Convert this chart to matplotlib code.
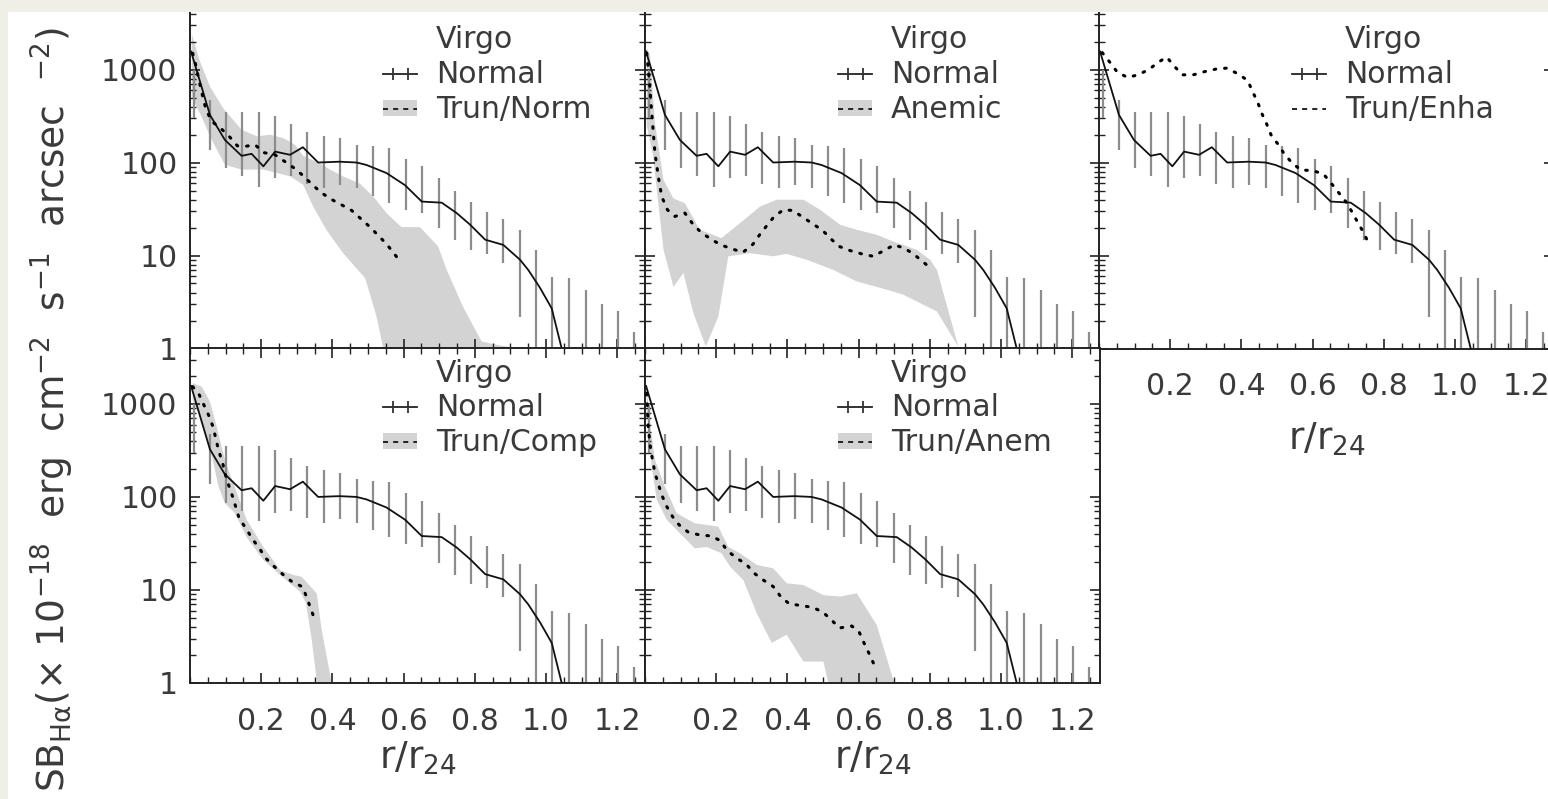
import matplotlib
matplotlib.use("Agg")
import matplotlib.pyplot as plt
from matplotlib.lines import Line2D
from matplotlib.patches import Patch, Rectangle
from matplotlib.path import Path
from matplotlib.ticker import LogLocator, MultipleLocator, FixedLocator, NullFormatter

# ---- data ----
# "Normal" Virgo profile, same in every panel
normal_r = [0.003, 0.056, 0.098, 0.145, 0.173, 0.206, 0.239, 0.281, 0.317, 0.360, 0.420, 0.468, 0.496,
            0.552, 0.604, 0.651, 0.707, 0.749, 0.787, 0.829, 0.880, 0.927, 0.950, 0.983, 1.016, 1.044, 1.060]
normal_sb = [1560, 325, 175, 118, 124, 91, 131, 121, 146, 100, 102, 100, 94,
             77, 57, 38, 37, 28.6, 21.4, 14.8, 13.0, 9.0, 7.0, 4.5, 2.7, 1.0, 0.6]
err_r = [0.010, 0.056, 0.101, 0.145, 0.194, 0.239, 0.284, 0.330, 0.376, 0.421, 0.468, 0.513, 0.560, 0.606,
         0.653, 0.698, 0.744, 0.789, 0.835, 0.880, 0.927, 0.972, 1.018, 1.065, 1.111, 1.156, 1.201, 1.248]
err_hi = [1000, 473, 353, 353, 353, 318, 261, 215, 194, 183, 155, 149, 143, 109,
          91, 68, 50, 38, 29.7, 24.6, 18.9, 11.5, 5.9, 5.7, 4.3, 3.0, 2.5, 1.5]
err_lo = [300, 137, 87, 71, 55, 68, 71, 59, 53, 58, 53, 44, 37, 31,
          29, 19.7, 14.5, 11.5, 10.4, 8.3, 2.2, 0.5, 0.5, 0.5, 0.5, 0.5, 0.5, 0.5]

# Trun/Norm
tn_r = [0.0075, 0.016, 0.030, 0.045, 0.061, 0.086, 0.110, 0.133, 0.154, 0.183, 0.206, 0.239, 0.267,
        0.293, 0.318, 0.344, 0.370, 0.398, 0.426, 0.454, 0.479, 0.504, 0.527, 0.551, 0.571, 0.592]
tn_sb = [1500, 1125, 630, 369, 277, 234, 191, 151, 149, 155, 128, 121, 102,
         87, 72, 57.5, 47, 40, 35, 30.5, 25, 20.5, 16.7, 13.4, 10.8, 8.4]
tn_top_r = [0.005, 0.028, 0.056, 0.093, 0.145, 0.188, 0.225, 0.262, 0.295, 0.318, 0.365, 0.393, 0.430,
            0.478, 0.515, 0.552, 0.594, 0.646, 0.697, 0.721, 0.767, 0.819, 0.870, 0.927, 0.950]
tn_top_sb = [2400, 1220, 656, 385, 225, 191, 199, 183, 155, 118, 98, 84, 71,
             59, 43, 28.6, 20.2, 20.2, 12.5, 7.0, 2.8, 1.19, 1.08, 1.0, 0.5]
tn_bot_r = [0.005, 0.032, 0.061, 0.098, 0.145, 0.206, 0.281, 0.318, 0.346, 0.383, 0.430, 0.492, 0.524, 0.543, 0.560]
tn_bot_sb = [510, 313, 175, 94.5, 84, 84, 71, 57.5, 33.6, 18.9, 10.6, 5.7, 2.2, 1.0, 0.5]

# Anemic
an_r = [0.005, 0.012, 0.019, 0.028, 0.038, 0.047, 0.063, 0.084, 0.112, 0.134, 0.157, 0.185, 0.213, 0.247,
        0.275, 0.303, 0.322, 0.342, 0.363, 0.389, 0.415, 0.443, 0.471, 0.499, 0.522, 0.546, 0.576, 0.609,
        0.641, 0.671, 0.700, 0.728, 0.754, 0.780, 0.808]
an_sb = [1500, 776, 339, 126, 68, 43, 31, 26.3, 28.6, 21.9, 17.8, 15, 13, 11.7,
         10.8, 13.2, 16.7, 20.9, 26.3, 31, 30.5, 25.9, 21.9, 18.6, 15.1, 12.5, 11.3, 10.4,
         9.8, 11.3, 13, 12, 10.4, 8.6, 7.0]
an_top_r = [0.005, 0.014, 0.028, 0.052, 0.080, 0.112, 0.154, 0.215, 0.267, 0.323, 0.370, 0.445, 0.492,
            0.548, 0.595, 0.651, 0.698, 0.763, 0.801, 0.820, 0.880]
an_top_sb = [1700, 1440, 265, 65, 41, 36.6, 18.9, 15.4, 22.3, 33.6, 39.8, 39.8, 31,
             21.4, 18.9, 16.7, 14.1, 11.5, 9.0, 7.0, 1.05]
an_bot_r = [0.005, 0.023, 0.052, 0.080, 0.108, 0.136, 0.171, 0.206, 0.234, 0.295, 0.360, 0.398, 0.454,
            0.529, 0.595, 0.660, 0.725, 0.820, 0.880]
an_bot_sb = [250, 116, 11.5, 4.6, 6.5, 2.4, 1.05, 2.2, 9.8, 10.6, 9.8, 10.4, 9.0,
             7.0, 5.25, 4.5, 3.8, 2.5, 1.05]

# Trun/Enha
te_r = [0.009, 0.031, 0.052, 0.081, 0.109, 0.139, 0.167, 0.190, 0.213, 0.234, 0.265, 0.298, 0.328, 0.359,
        0.390, 0.418, 0.431, 0.445, 0.457, 0.471, 0.483, 0.504, 0.522, 0.543, 0.567, 0.599, 0.630, 0.652,
        0.673, 0.693, 0.710, 0.727, 0.743, 0.757]
te_sb = [1520, 1190, 930, 820, 877, 993, 1200, 1360, 1070, 877, 877, 951, 1010, 1035,
         899, 762, 580, 453, 339, 259, 199, 155, 121, 98.6, 83, 82, 75.5, 60,
         47.5, 38, 29.7, 22.6, 17.7, 13.6]

# Trun/Comp
tc_r = [0.0075, 0.026, 0.039, 0.054, 0.065, 0.080, 0.092, 0.098, 0.110, 0.120, 0.138, 0.157, 0.176,
        0.195, 0.213, 0.237, 0.260, 0.286, 0.316, 0.328, 0.339, 0.351]
tc_sb = [1535, 1250, 975, 731, 562, 320, 229, 180, 129, 100, 59, 46, 35,
         28, 21.9, 17.8, 14.8, 12.3, 10.8, 8.3, 6.3, 4.75]
tc_top_r = [0.0075, 0.033, 0.056, 0.075, 0.098, 0.122, 0.159, 0.206, 0.253, 0.290, 0.313, 0.356, 0.370, 0.398, 0.410]
tc_top_sb = [1670, 1535, 1060, 570, 250, 140, 57, 29, 16.4, 14.5, 13.9, 9.2, 3.7, 1.0, 0.5]
tc_bot_r = [0.0075, 0.028, 0.056, 0.080, 0.098, 0.126, 0.159, 0.206, 0.253, 0.281, 0.309, 0.326, 0.342, 0.357, 0.370]
tc_bot_sb = [1100, 730, 348, 129, 86, 67, 37, 21, 14.5, 11.8, 9.6, 7.2, 2.9, 1.0, 0.5]

# Trun/Anem
ta_r = [0.005, 0.009, 0.016, 0.028, 0.047, 0.061, 0.078, 0.096, 0.122, 0.154, 0.187, 0.211, 0.231, 0.258,
        0.284, 0.307, 0.332, 0.360, 0.381, 0.405, 0.438, 0.471, 0.499, 0.524, 0.546, 0.581, 0.602, 0.615,
        0.630, 0.644]
ta_sb = [1300, 570, 320, 180, 105, 79, 61, 50, 41.7, 39, 38, 33.9, 26.5, 21.9,
         19, 15.1, 12.8, 10.9, 8.5, 7.1, 6.8, 6.5, 5.8, 4.75, 3.9, 4.1, 3.5, 2.7,
         2.05, 1.56]
ta_top_r = [0.005, 0.014, 0.028, 0.056, 0.089, 0.140, 0.173, 0.206, 0.234, 0.267, 0.314, 0.360, 0.398,
            0.445, 0.501, 0.548, 0.595, 0.651, 0.700, 0.720]
ta_top_sb = [1410, 620, 250, 129, 67, 52, 50, 48, 29, 24.8, 18.6, 17.1, 11.8,
             11.3, 8.8, 8.5, 9.2, 4.2, 1.0, 0.5]
ta_bot_r = [0.005, 0.019, 0.033, 0.061, 0.098, 0.140, 0.173, 0.215, 0.239, 0.276, 0.314, 0.356, 0.398,
            0.445, 0.501, 0.515, 0.530]
ta_bot_sb = [900, 212, 93, 57, 40.7, 28, 29, 24.8, 17.8, 12.8, 5.6, 2.7, 3.3,
             1.7, 1.7, 1.0, 0.5]

x_ticks = [0.2, 0.4, 0.6, 0.8, 1.0, 1.2]
x_tick_labels = ["0.2", "0.4", "0.6", "0.8", "1.0", "1.2"]
y_ticks = [1, 10, 100, 1000]
y_tick_labels = ["1", "10", "100", "1000"]

# ---- style ----
TXT = "#3a3a3a"
BAND = "#d3d3d3"
ERR = "#8c8c8c"
FS = 21.5

plt.rcParams["font.family"] = ["DejaVu Sans"]
plt.rcParams["mathtext.default"] = "regular"

W, H = 1548, 799
fig = plt.figure(figsize=(W / 100, H / 100), dpi=100, facecolor="white")

# two short vertical bars, used as the "Normal" legend marker
two_bars = Path([(-0.6, -0.5), (-0.6, 0.5), (0.6, -0.5), (0.6, 0.5)],
                [Path.MOVETO, Path.LINETO, Path.MOVETO, Path.LINETO])


def make_axes(left_px, top_px, bottom_px, ytop):
    ax = fig.add_axes([left_px / W, (H - bottom_px) / H, 455 / W, (bottom_px - top_px) / H])
    ax.set_yscale("log")
    ax.set_xlim(0, 1.278)
    ax.set_ylim(1, ytop)
    ax.xaxis.set_major_locator(MultipleLocator(0.2))
    ax.xaxis.set_minor_locator(MultipleLocator(0.05))
    ax.yaxis.set_major_locator(FixedLocator(y_ticks))
    ax.yaxis.set_minor_locator(LogLocator(base=10, subs=range(2, 10)))
    ax.yaxis.set_minor_formatter(NullFormatter())
    ax.tick_params(which="both", direction="in", top=True, right=True, colors="#222222",
                   labelcolor=TXT, labelsize=FS, labelbottom=False, labelleft=False)
    ax.tick_params(which="major", length=7, width=1.2)
    ax.tick_params(which="minor", length=4, width=1.0)
    ax.tick_params(axis="x", pad=17)
    ax.tick_params(axis="y", pad=9)
    for s in ax.spines.values():
        s.set_linewidth(1.4)
        s.set_color("#222222")
    return ax


def draw_normal(ax):
    ax.vlines(err_r, err_lo, err_hi, colors=ERR, linewidth=1.6, zorder=2)
    ax.plot(normal_r, normal_sb, color="#111111", linewidth=1.3, zorder=3)


def draw_band(ax, top_r, top_sb, bot_r, bot_sb):
    xs = list(top_r) + list(reversed(bot_r))
    ys = list(top_sb) + list(reversed(bot_sb))
    ax.fill(xs, ys, color=BAND, linewidth=0, zorder=1)


def draw_dots(ax, r, sb):
    ax.plot(r, sb, color="black", linewidth=2.2, linestyle=(0, (0.55, 2.9)),
            dash_capstyle="round", zorder=4)


def add_legend(ax, label, y_anchor, with_band=True):
    blank = Line2D([], [], linestyle="none")
    normal_h = Line2D([], [], color="#222222", linewidth=1.3, marker=two_bars, markersize=10.8,
                      markeredgewidth=1.3, markeredgecolor="#333333")
    dash = Line2D([], [], color="#222222", linewidth=1.4, linestyle=(0, (2.6, 2.6)))
    if with_band:
        other = (Patch(facecolor=BAND, edgecolor="none"), dash)
    else:
        other = dash
    leg = ax.legend([blank, normal_h, other], ["Virgo", "Normal", label],
                    loc="upper left", bbox_to_anchor=(0.424, y_anchor), frameon=False,
                    fontsize=FS, borderpad=0, borderaxespad=0, handlelength=1.15,
                    handletextpad=0.62, handleheight=0.45, labelspacing=0.2, numpoints=1)
    for t in leg.get_texts():
        t.set_color(TXT)


def show_x_labels(ax, pad=3):
    ax.set_xticks(x_ticks)
    ax.set_xticklabels(x_tick_labels)
    ax.tick_params(labelbottom=True)
    ax.set_xlabel(r"r/r$_{24}$", fontsize=27, color=TXT, labelpad=pad)


def show_y_labels(ax):
    ax.set_yticks(y_ticks)
    ax.set_yticklabels(y_tick_labels)
    ax.tick_params(labelleft=True)


cols = [190, 645, 1099]
top_row = (0, 348.5, 5590)
bot_row = (348, 683, 3990)
top_leg_y = 1 - 25.5 / 348.5
bot_leg_y = 1 - 10.5 / 335

ax1 = make_axes(cols[0], *top_row)
draw_band(ax1, tn_top_r, tn_top_sb, tn_bot_r, tn_bot_sb)
draw_normal(ax1)
draw_dots(ax1, tn_r, tn_sb)
add_legend(ax1, "Trun/Norm", top_leg_y)
show_y_labels(ax1)

ax2 = make_axes(cols[1], *top_row)
draw_band(ax2, an_top_r, an_top_sb, an_bot_r, an_bot_sb)
draw_normal(ax2)
draw_dots(ax2, an_r, an_sb)
add_legend(ax2, "Anemic", top_leg_y)

ax3 = make_axes(cols[2], *top_row)
draw_normal(ax3)
draw_dots(ax3, te_r, te_sb)
add_legend(ax3, "Trun/Enha", top_leg_y, with_band=False)
show_x_labels(ax3, pad=14)

ax4 = make_axes(cols[0], *bot_row)
draw_band(ax4, tc_top_r, tc_top_sb, tc_bot_r, tc_bot_sb)
draw_normal(ax4)
draw_dots(ax4, tc_r, tc_sb)
add_legend(ax4, "Trun/Comp", bot_leg_y)
show_y_labels(ax4)
show_x_labels(ax4)

ax5 = make_axes(cols[1], *bot_row)
draw_band(ax5, ta_top_r, ta_top_sb, ta_bot_r, ta_bot_sb)
draw_normal(ax5)
draw_dots(ax5, ta_r, ta_sb)
add_legend(ax5, "Trun/Anem", bot_leg_y)
show_x_labels(ax5)

fig.text(52 / W, (H - 410) / H,
         r"SB$_{H\alpha}$(× 10$^{-18}$  erg  cm$^{-2}$  s$^{-1}$  arcsec  $^{-2}$)",
         rotation=90, ha="center", va="center", fontsize=27, color=TXT)

# beige frame strips on the left and top edge
beige = "#efefe8"
fig.add_artist(Rectangle((0, 0), 8 / W, 1, transform=fig.transFigure, facecolor=beige,
                         edgecolor="none", zorder=20))
fig.add_artist(Rectangle((0, (H - 12) / H), 1, 12 / H, transform=fig.transFigure, facecolor=beige,
                         edgecolor="none", zorder=20))

fig.savefig("out.png", dpi=100, facecolor=fig.get_facecolor())
